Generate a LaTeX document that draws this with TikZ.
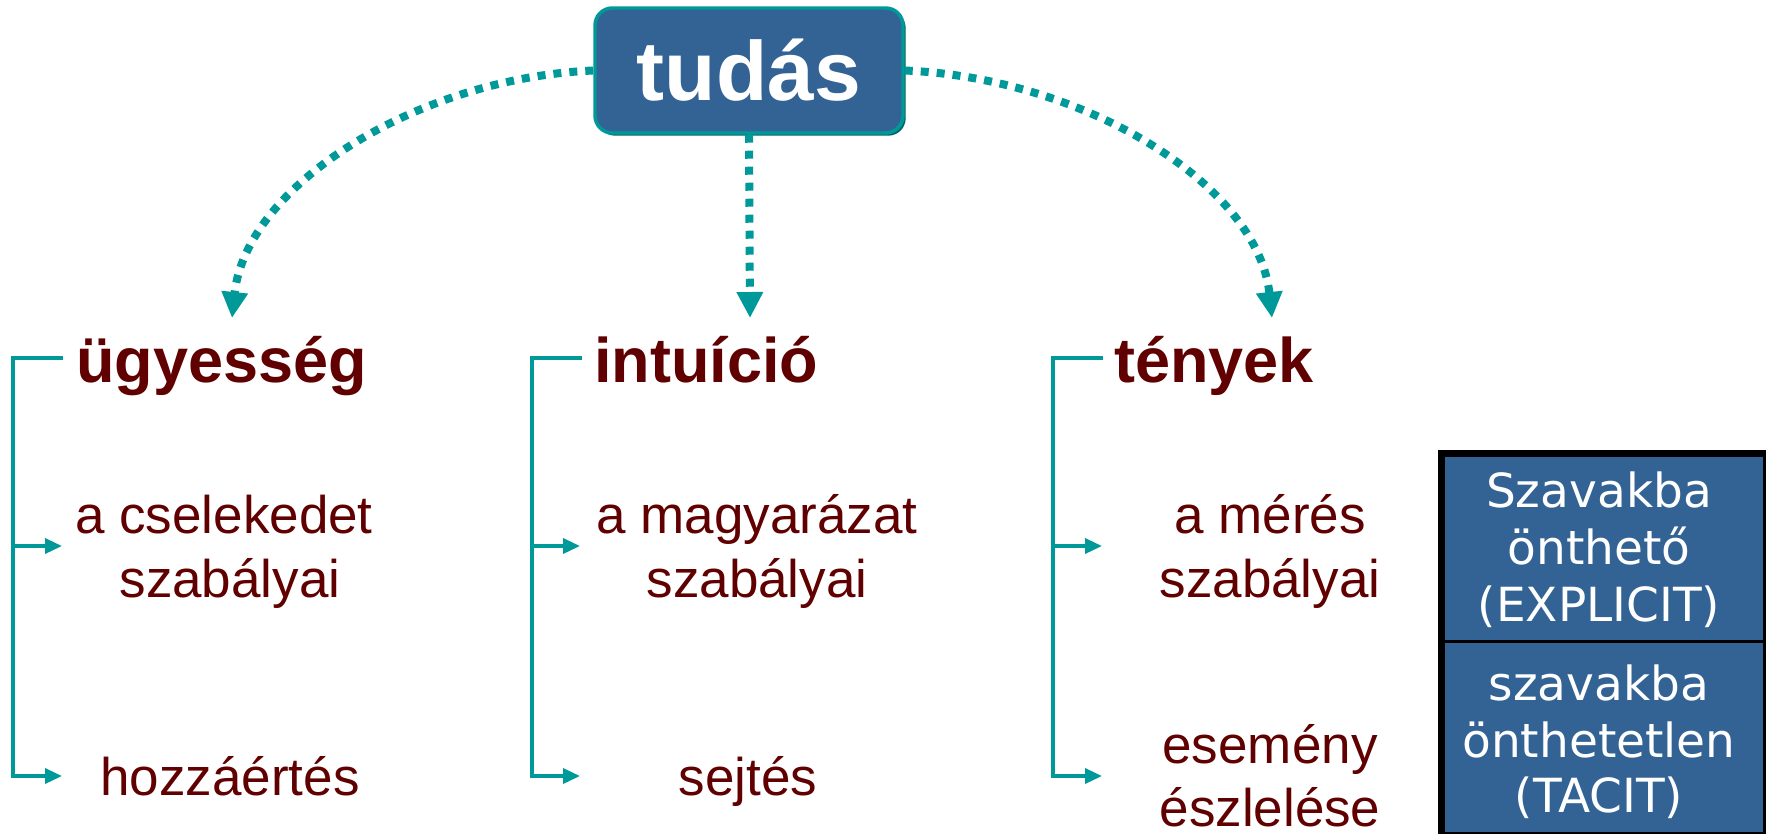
\documentclass[tikz,border=0pt]{standalone}
\usepackage{fontspec}
\setmainfont{Liberation Sans}
\newfontfamily\cellfont{DejaVu Sans}
\usetikzlibrary{arrows.meta,shadows}
\definecolor{teal1}{RGB}{0,153,153}
\definecolor{tealdark}{RGB}{0,102,102}
\definecolor{boxblue}{RGB}{51,99,148}
\definecolor{maroon1}{RGB}{96,0,0}
\tikzset{
 heading/.style={anchor=base west, inner sep=0pt, text=maroon1, font=\fontsize{47.25}{56}\selectfont\bfseries},
 item/.style={anchor=base, inner sep=0pt, text=maroon1, font=\fontsize{39.75}{48}\selectfont},
 celltext/.style={anchor=base, inner sep=0pt, text=white, font=\cellfont\fontsize{35.25}{42}\selectfont},
 dotarrow/.style={draw=teal1, line width=6pt, line cap=butt, dash pattern=on 6pt off 6pt, -{Triangle[length=19.5pt,width=18.75pt]}},
 brk/.style={draw=teal1, line width=2.6pt},
 brkarrow/.style={brk, -{Triangle[length=12.75pt,width=11.25pt]}},
 topbox/.style={fill=boxblue, draw=teal1, line width=2.6pt, rounded corners=13pt, minimum width=231pt, minimum height=93.75pt, text=white, font=\fontsize{63}{70}\selectfont\bfseries, inner sep=0pt, drop shadow={shadow xshift=2pt, shadow yshift=-2pt, fill=tealdark, opacity=1}},
 cellbox/.style={fill=boxblue, draw=black, line width=5.25pt, minimum width=243.75pt, minimum height=286.875pt, inner sep=0pt, anchor=north west},
}
\begin{document}
\begin{tikzpicture}[x=0.75pt, y=-0.75pt]
\useasboundingbox (0,0) rectangle (1766,833);

% top node
\node[topbox] (tudas) at (749,70.5) {tudás};

% arrow end points
\coordinate (tipL) at (232,318);
\coordinate (tipM) at (750,318);
\coordinate (tipR) at (1272,318);

\draw[dotarrow] (tudas.west) .. controls (418,78) and (246,185) .. (tipL);
\draw[dotarrow] (tudas.south) -- (tipM);
\draw[dotarrow] (tudas.east) .. controls (1085,78) and (1258,185) .. (tipR);

% headings
\node[heading] (h1) at (76,382) {ügyesség};
\node[heading] (h2) at (594,382) {intuíció};
\node[heading] (h3) at (1114,382) {tények};

% items column 1
\node[item] (c1a) at (224,533) {a cselekedet};
\node[item] (c1b) at (230,597) {szabályai};
\node[item] (c1c) at (230,795) {hozzáértés};
% column 2
\node[item] (c2a) at (757,533) {a magyarázat};
\node[item] (c2b) at (757,597) {szabályai};
\node[item] (c2c) at (748,795) {sejtés};
% column 3
\node[item] (c3a) at (1270,533) {a mérés};
\node[item] (c3b) at (1270,597) {szabályai};
\node[item] (c3c) at (1270,763) {esemény};
\node[item] (c3d) at (1270,826) {észlelése};

% brackets
\coordinate (b1e) at (63,358);  \coordinate (b1c) at (13,358);
\coordinate (b1m) at (13,546);  \coordinate (b1t) at (62,546);
\coordinate (b1b) at (62,776);
\draw[brkarrow] (b1e) -- (b1c) |- (b1b);
\draw[brkarrow] (b1m) -- (b1t);

\coordinate (b2e) at (582,358); \coordinate (b2c) at (532,358);
\coordinate (b2m) at (532,546); \coordinate (b2t) at (580,546);
\coordinate (b2b) at (580,776);
\draw[brkarrow] (b2e) -- (b2c) |- (b2b);
\draw[brkarrow] (b2m) -- (b2t);

\coordinate (b3e) at (1103,358); \coordinate (b3c) at (1053,358);
\coordinate (b3m) at (1053,546); \coordinate (b3t) at (1102,546);
\coordinate (b3b) at (1102,776);
\draw[brkarrow] (b3e) -- (b3c) |- (b3b);
\draw[brkarrow] (b3m) -- (b3t);

% table
\node[cellbox] (tbl) at (1437.5,449.5) {};
\coordinate (dL) at (1437.5,641.5);
\coordinate (dR) at (1762.5,641.5);
\draw[black, line width=2.5pt] (dL) -- (dR);
\node[celltext] (t1) at (1599,507) {Szavakba};
\node[celltext] (t2) at (1599,564) {önthető};
\node[celltext] (t3) at (1599,621) {(EXPLICIT)};
\node[celltext] (t4) at (1599,700) {szavakba};
\node[celltext] (t5) at (1599,757) {önthetetlen};
\node[celltext] (t6) at (1599,812) {(TACIT)};
\end{tikzpicture}
\end{document}
